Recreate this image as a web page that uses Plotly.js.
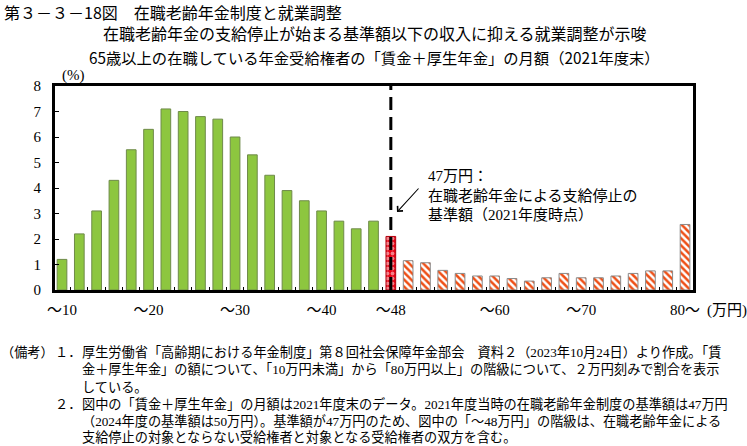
<!DOCTYPE html>
<html>
<head>
<meta charset="utf-8">
<script src="https://cdn.plot.ly/plotly-3.0.1.min.js"></script>
<style>
  html, body { margin: 0; padding: 0; background: #ffffff; }
  #chart { width: 747px; height: 446px; }
</style>
</head>
<body>
<div id="chart"></div>
<script>
// ---- data ----
const categories = ["～10","～12","～14","～16","～18","～20","～22","～24","～26","～28",
                    "～30","～32","～34","～36","～38","～40","～42","～44","～46","～48",
                    "～50","～52","～54","～56","～58","～60","～62","～64","～66","～68",
                    "～70","～72","～74","～76","～78","～80","80～"];
const shares = [1.2, 2.2, 3.1, 4.3, 5.5, 6.3, 7.1, 7.0, 6.8, 6.7,
                6.0, 5.3, 4.5, 3.9, 3.5, 3.1, 2.7, 2.4, 2.7, 2.1,
                1.15, 1.07, 0.77, 0.65, 0.55, 0.55, 0.45, 0.35, 0.48, 0.65,
                0.48, 0.48, 0.55, 0.65, 0.75, 0.75, 2.57];
const tickLabels = ["～10","～20","～30","～40","～48","～60","～70","80～"];
const thresholdCategory = "～48";
const yTicks = [0,1,2,3,4,5,6,7,8];

const titleLines = [
  "第３－３－18図　在職老齢年金制度と就業調整",
  "在職老齢年金の支給停止が始まる基準額以下の収入に抑える就業調整が示唆",
  "65歳以上の在職している年金受給権者の「賃金＋厚生年金」の月額（2021年度末）"
];
const calloutLines = ["47万円：", "在職老齢年金による支給停止の", "基準額（2021年度時点）"];
const noteLines = [
  "厚生労働省「高齢期における年金制度」第８回社会保障年金部会　資料２（2023年10月24日）より作成。「賃",
  "金＋厚生年金」の額について、「10万円未満」から「80万円以上」の階級について、２万円刻みで割合を表示",
  "している。",
  "図中の「賃金＋厚生年金」の月額は2021年度末のデータ。2021年度当時の在職老齢年金制度の基準額は47万円",
  "（2024年度の基準額は50万円）。基準額が47万円のため、図中の「～48万円」の階級は、在職老齢年金による",
  "支給停止の対象とならない受給権者と対象となる受給権者の双方を含む。"
];

// ---- split into the three styled groups ----
const thrIdx = categories.indexOf(thresholdCategory);
const idx = categories.map((c, i) => i);
const pick = (cond) => ({ x: idx.filter(cond), y: idx.filter(cond).map(i => shares[i]) });
const gBelow = pick(i => i < thrIdx);
const gAt = pick(i => i === thrIdx);
const gAbove = pick(i => i > thrIdx);

const BW = 0.56;
const traces = [
  { type: 'bar', x: gBelow.x, y: gBelow.y, width: BW,
    marker: { color: '#8dc63f', line: { color: '#6f8a4a', width: 1 } }, hoverinfo: 'skip' },
  { type: 'bar', x: gAt.x, y: gAt.y, width: BW,
    marker: { color: '#e60012', line: { color: '#b0000e', width: 1 },
              pattern: { shape: '.', fillmode: 'overlay', fgcolor: '#ffffff', size: 5, solidity: 0.45 } },
    hoverinfo: 'skip' },
  { type: 'bar', x: gAbove.x, y: gAbove.y, width: BW,
    marker: { color: '#ffffff', line: { color: '#8a8a8a', width: 1 },
              pattern: { shape: '\\', fillmode: 'replace', fgcolor: '#ee4f16', bgcolor: '#ffffff', size: 5, solidity: 0.5 } },
    hoverinfo: 'skip' }
];

// ---- pixel helpers for plot area ----
const L = 55, T = 86, W = 638, H = 204;
const px = v => (v - L) / W;
const py = v => (T + H - v) / H;

const serif = "Liberation Serif, Noto Sans CJK JP";
const gothic = "Noto Sans CJK JP";
const NF = 13.2;

const annotations = [
  { text: titleLines[0], x: px(3), y: py(12), xanchor: 'left', yanchor: 'middle', font: { family: gothic, size: 16, color: '#000' } },
  { text: titleLines[1], x: px(375), y: py(33), xanchor: 'center', yanchor: 'middle', font: { family: gothic, size: 16, color: '#000' } },
  { text: titleLines[2], x: px(375), y: py(57), xanchor: 'center', yanchor: 'middle', font: { family: gothic, size: 15.3, color: '#000' } },
  { text: "(%)", x: px(73), y: py(76), xanchor: 'center', yanchor: 'middle', font: { family: serif, size: 15, color: '#000' } },
  { text: "(万円)", x: px(706), y: py(310), xanchor: 'left', yanchor: 'middle', font: { family: serif, size: 15, color: '#000' } },
  { text: calloutLines.join('<br>'), x: px(427), y: py(195), xanchor: 'left', yanchor: 'middle', align: 'left',
    font: { family: serif, size: 15, color: '#000' } },
  { text: '', x: px(397), y: py(212), showarrow: true, ax: 22, ay: -24, arrowhead: 4, arrowsize: 1.3, arrowwidth: 1.1, arrowcolor: '#000' },
  { text: "（備考）", x: px(0), y: py(352), xanchor: 'left', yanchor: 'middle', font: { family: serif, size: NF, color: '#000' } },
  { text: "１．", x: px(54), y: py(352), xanchor: 'left', yanchor: 'middle', font: { family: serif, size: NF, color: '#000' } },
  { text: "２．", x: px(54), y: py(404), xanchor: 'left', yanchor: 'middle', font: { family: serif, size: NF, color: '#000' } }
];
const noteY = [352, 369.5, 387, 404, 421, 437.5];
noteLines.forEach((t, i) => {
  annotations.push({ text: t, x: px(81), y: py(noteY[i]), xanchor: 'left', yanchor: 'middle',
    font: { family: serif, size: NF, color: '#000' } });
});
annotations.forEach(a => { a.xref = 'paper'; a.yref = 'paper'; a.borderpad = 0; if (!a.showarrow) a.showarrow = false; });

const layout = {
  width: 747, height: 446,
  margin: { l: L, r: 747 - L - W, t: T, b: 446 - T - H, pad: 0 },
  paper_bgcolor: '#ffffff', plot_bgcolor: '#ffffff',
  showlegend: false, barmode: 'overlay',
  xaxis: {
    range: [-0.405, 36.46], showgrid: false, zeroline: false,
    showline: true, mirror: true, linewidth: 3, linecolor: '#000',
    tickmode: 'array', tickvals: tickLabels.map(l => categories.indexOf(l)), ticktext: tickLabels,
    ticks: '', ticklabelstandoff: 4,
    minor: { tick0: 0.5, dtick: 1, ticks: 'inside', ticklen: 3, tickwidth: 1, tickcolor: '#000' },
    tickfont: { family: serif, size: 15, color: '#000' }
  },
  yaxis: {
    range: [0, 8], tickmode: 'array', tickvals: yTicks, showgrid: false, zeroline: false,
    showline: true, mirror: true, linewidth: 3, linecolor: '#000',
    ticks: 'inside', ticklen: 4, tickwidth: 1, tickcolor: '#000', ticklabelstandoff: 8,
    tickfont: { family: serif, size: 15, color: '#000' }
  },
  shapes: [
    { type: 'line', xref: 'x', yref: 'paper', x0: thrIdx, x1: thrIdx, y0: 0, y1: 1, layer: 'above',
      line: { color: '#000', width: 3, dash: '13px,7px' } }
  ],
  annotations: annotations
};

Plotly.newPlot('chart', traces, layout, { staticPlot: true, displayModeBar: false });
</script>
</body>
</html>
